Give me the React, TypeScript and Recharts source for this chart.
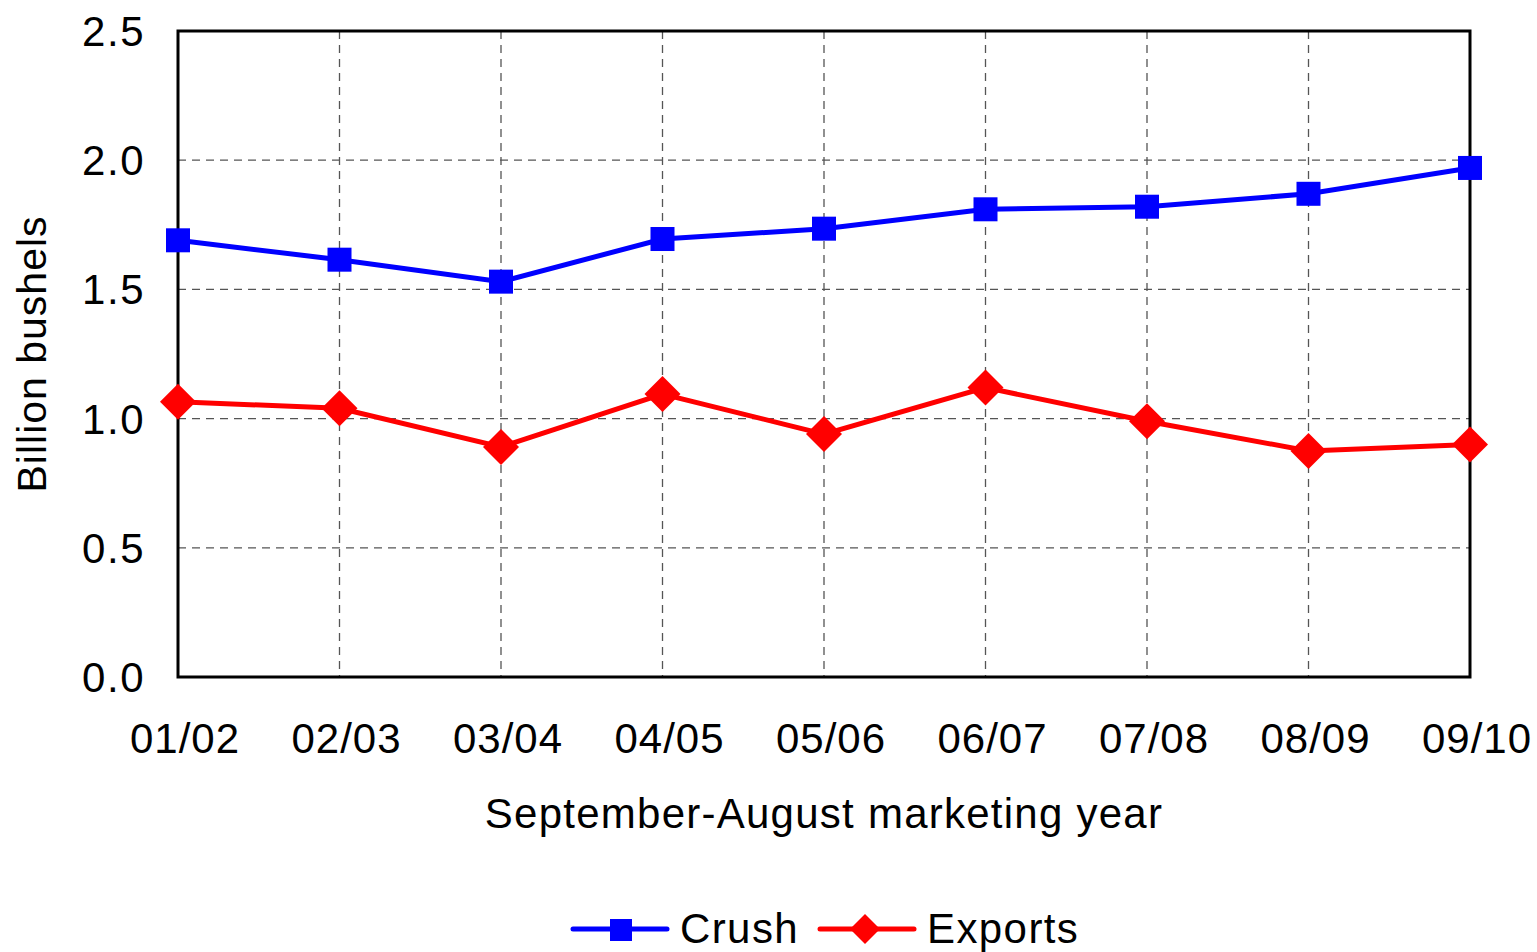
import React from "react";
import {
  LineChart,
  Line,
  XAxis,
  YAxis,
  CartesianGrid,
  Legend,
  ReferenceArea,
} from "recharts";

const categories = ["01/02", "02/03", "03/04", "04/05", "05/06", "06/07", "07/08", "08/09", "09/10"];
const crush = [1.69, 1.615, 1.53, 1.695, 1.735, 1.81, 1.82, 1.87, 1.97];
const exports_ = [1.065, 1.04, 0.89, 1.095, 0.94, 1.12, 0.99, 0.875, 0.9];
const yTicks = [0, 0.5, 1.0, 1.5, 2.0, 2.5];

const data = categories.map((c, i) => ({ year: c, Crush: crush[i], Exports: exports_[i] }));

const FONT = "'Liberation Sans', Arial, sans-serif";
const BLUE = "#0000FF";
const RED = "#FF0000";

const SquareDot = (props: any) => {
  const { cx, cy } = props;
  if (cx == null || cy == null) return null;
  const s = 24;
  return <rect x={cx - s / 2} y={cy - s / 2} width={s} height={s} fill={BLUE} />;
};

const DiamondDot = (props: any) => {
  const { cx, cy } = props;
  if (cx == null || cy == null) return null;
  const r = 18;
  return (
    <polygon
      points={`${cx},${cy - r} ${cx + r},${cy} ${cx},${cy + r} ${cx - r},${cy}`}
      fill={RED}
    />
  );
};

const LegendContent = () => (
  <div
    style={{
      display: "flex",
      justifyContent: "flex-start",
      alignItems: "center",
      height: 60,
      paddingTop: 14,
      paddingLeft: 570,
      boxSizing: "border-box",
      fontFamily: FONT,
      fontSize: 42,
      letterSpacing: 1.4,
      color: "#000",
    }}
  >
    <svg width={100} height={30} style={{ marginRight: 10 }}>
      <line x1={3} y1={15} x2={97} y2={15} stroke={BLUE} strokeWidth={5} strokeLinecap="round" />
      <rect x={40} y={5} width={22} height={22} fill={BLUE} />
    </svg>
    <span style={{ marginRight: 18 }}>Crush</span>
    <svg width={100} height={40} style={{ marginRight: 10 }}>
      <line x1={3} y1={20} x2={97} y2={20} stroke={RED} strokeWidth={5} strokeLinecap="round" />
      <polygon points="48,5 63,20 48,35 33,20" fill={RED} />
    </svg>
    <span>Exports</span>
  </div>
);

export default function App() {
  return (
    <div style={{ position: "absolute", left: 0, top: 0, width: 1537, height: 952, background: "#fff" }}>
      <LineChart
        width={1537}
        height={952}
        data={data}
        margin={{ top: 31, right: 67, left: 0, bottom: 0 }}
      >
        <CartesianGrid stroke="#555" strokeWidth={1.3} strokeDasharray="8 6" />
        <XAxis
          dataKey="year"
          height={215}
          tickLine={false}
          axisLine={false}
          tickSize={0}
          tickMargin={46}
          interval={0}
          tick={{ fill: "#000", fontSize: 42, fontFamily: FONT, dx: 7, letterSpacing: 1 }}
          label={{
            content: (p: any) => {
              const vb = p.viewBox || {};
              return (
                <text
                  x={vb.x + vb.width / 2}
                  y={vb.y + 151}
                  textAnchor="middle"
                  fontFamily={FONT}
                  fontSize={42}
                  letterSpacing={1.25}
                  fill="#000"
                >
                  September-August marketing year
                </text>
              );
            },
          }}
        />
        <YAxis
          width={178}
          domain={[0, 2.5]}
          ticks={yTicks}
          tickFormatter={(v: number) => v.toFixed(1)}
          tickLine={false}
          axisLine={false}
          tickSize={0}
          tickMargin={33}
          tick={{ fill: "#000", fontSize: 42, fontFamily: FONT, letterSpacing: 1.5 }}
          label={{
            content: (p: any) => {
              const vb = p.viewBox || {};
              const x = vb.x + 32;
              const y = vb.y + vb.height / 2;
              return (
                <text
                  x={x}
                  y={y}
                  transform={`rotate(-90, ${x}, ${y})`}
                  textAnchor="middle"
                  dominantBaseline="central"
                  fontFamily={FONT}
                  fontSize={41}
                  letterSpacing={1}
                  fill="#000"
                >
                  Billion bushels
                </text>
              );
            },
          }}
        />
        <ReferenceArea
          x1={categories[0]}
          x2={categories[categories.length - 1]}
          y1={0}
          y2={2.5}
          fill="none"
          fillOpacity={0}
          stroke="#000"
          strokeWidth={3}
          ifOverflow="visible"
        />
        <Line
          dataKey="Crush"
          stroke={BLUE}
          strokeWidth={5}
          dot={<SquareDot />}
          activeDot={false}
          isAnimationActive={false}
        />
        <Line
          dataKey="Exports"
          stroke={RED}
          strokeWidth={5}
          dot={<DiamondDot />}
          activeDot={false}
          isAnimationActive={false}
        />
        <Legend verticalAlign="bottom" align="center" content={<LegendContent />} />
      </LineChart>
    </div>
  );
}
